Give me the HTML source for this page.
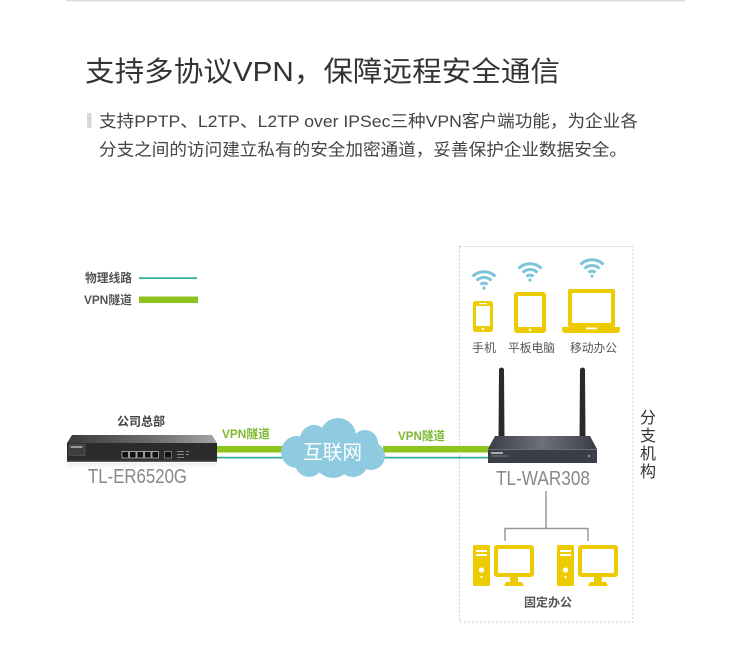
<!DOCTYPE html>
<html><head><meta charset="utf-8">
<style>
html,body{margin:0;padding:0;background:#fff;}
svg{display:block;}
text{font-family:"Liberation Sans","Noto Sans CJK SC",sans-serif;}
</style></head>
<body>
<svg width="750" height="652" viewBox="0 0 750 652" xmlns="http://www.w3.org/2000/svg">
<defs>
<linearGradient id="r1top" x1="0" y1="0" x2="1" y2="0">
<stop offset="0" stop-color="#3a3a3a"/><stop offset="0.6" stop-color="#707070"/><stop offset="1" stop-color="#a5a5a5"/>
</linearGradient>
<linearGradient id="r2top" x1="0" y1="0" x2="1" y2="0">
<stop offset="0" stop-color="#3a3d44"/><stop offset="0.5" stop-color="#6e717a"/><stop offset="1" stop-color="#3a3d44"/>
</linearGradient>
<linearGradient id="refl" x1="0" y1="0" x2="0" y2="1">
<stop offset="0" stop-color="#ddd"/><stop offset="1" stop-color="#fff"/>
</linearGradient>
<g id="wifi" fill="none" stroke="#7dc3da" stroke-width="3" stroke-linecap="butt">
<path d="M -11.5 -11.5 A 16.3 16.3 0 0 1 11.5 -11.5"/>
<path d="M -7.4 -7.4 A 10.5 10.5 0 0 1 7.4 -7.4"/>
<path d="M -3.5 -3.5 A 5 5 0 0 1 3.5 -3.5"/>
<circle cx="0" cy="0" r="1.6" fill="#7dc3da" stroke="none"/>
</g>
<g id="pc">
<rect x="0" y="0" width="17" height="41" rx="1.5" fill="#eccb00"/>
<rect x="3" y="5" width="11" height="2" fill="#fff"/>
<rect x="3" y="9" width="11" height="2" fill="#fff"/>
<circle cx="8.5" cy="25" r="2.6" fill="#fff"/>
<circle cx="8.5" cy="32" r="1.1" fill="#fff"/>
<rect x="21" y="0" width="40" height="32" rx="3" fill="#eccb00"/>
<rect x="25" y="4" width="32" height="24" rx="1" fill="#fff"/>
<rect x="37" y="32" width="8" height="5" fill="#eccb00"/>
<path d="M33 37 H49 L51 41 H31 Z" fill="#eccb00"/>
</g>
</defs>

<!-- top line -->
<rect x="66" y="0" width="619" height="1.5" fill="#dcdcdc"/>

<!-- title -->
<text x="85" y="81" font-size="28" fill="#333" textLength="475" lengthAdjust="spacingAndGlyphs">支持多协议VPN，保障远程安全通信</text>

<!-- subtitle -->
<rect x="87" y="113" width="4.5" height="15" fill="#d8d8d8"/>
<text x="99" y="127" font-size="17" fill="#444" textLength="539" lengthAdjust="spacingAndGlyphs">支持PPTP、L2TP、L2TP over IPSec三种VPN客户端功能，为企业各</text>
<text x="99" y="155.5" font-size="17" fill="#444" textLength="528" lengthAdjust="spacingAndGlyphs">分支之间的访问建立私有的安全加密通道，妥善保护企业数据安全。</text>

<!-- legend -->
<text x="85" y="282" font-size="12" font-weight="bold" fill="#555" textLength="47" lengthAdjust="spacingAndGlyphs">物理线路</text>
<rect x="139" y="277.3" width="58" height="1.6" fill="#22a88c"/>
<text x="84" y="304" font-size="12" font-weight="bold" fill="#555" textLength="48" lengthAdjust="spacingAndGlyphs">VPN隧道</text>
<rect x="139" y="296.5" width="59" height="6.5" fill="#8dc21f"/>

<!-- dashed box -->
<rect x="459.5" y="246.5" width="173.5" height="375.5" fill="none" stroke="#cfcfcf" stroke-width="1" stroke-dasharray="2 2"/>

<!-- connection lines -->
<rect x="215" y="446" width="70" height="6.5" fill="#8dc21f"/>
<rect x="215" y="456.8" width="70" height="1.6" fill="#22a88c"/>
<rect x="383" y="446" width="108" height="6.5" fill="#8dc21f"/>
<rect x="383" y="456.8" width="108" height="1.6" fill="#22a88c"/>

<text x="222" y="438" font-size="12" font-weight="bold" fill="#7cb82f" textLength="48" lengthAdjust="spacingAndGlyphs">VPN隧道</text>
<text x="398" y="440" font-size="12" font-weight="bold" fill="#7cb82f" textLength="47" lengthAdjust="spacingAndGlyphs">VPN隧道</text>

<!-- cloud -->
<g fill="#8ecae0">
<circle cx="297" cy="452" r="16"/>
<circle cx="314" cy="439" r="14"/>
<circle cx="338" cy="436" r="18"/>
<circle cx="365" cy="443" r="13"/>
<circle cx="371" cy="456" r="14"/>
<circle cx="333" cy="459" r="19"/>
<circle cx="353" cy="462" r="15"/>
<circle cx="309" cy="463" r="14"/>
</g>
<text x="303" y="459" font-size="20" fill="#fff" textLength="59" lengthAdjust="spacingAndGlyphs">互联网</text>

<!-- router 1 -->
<text x="117" y="425.5" font-size="12" font-weight="bold" fill="#444" textLength="48" lengthAdjust="spacingAndGlyphs">公司总部</text>
<path d="M72 435 H212 L217 443 H67 Z" fill="url(#r1top)"/>
<rect x="67" y="443" width="150" height="19" fill="#2b2b2b"/>
<rect x="67" y="460.5" width="150" height="1.5" fill="#555"/>
<rect x="69" y="444.5" width="16" height="11" fill="#3d3d3d" stroke="#666" stroke-width="0.5"/>
<rect x="70.5" y="446" width="12" height="2" fill="#999"/>
<g fill="#111" stroke="#bbb" stroke-width="0.8">
<rect x="122" y="451.5" width="6.5" height="6.5"/>
<rect x="129.5" y="451.5" width="6.5" height="6.5"/>
<rect x="137" y="451.5" width="6.5" height="6.5"/>
<rect x="144.5" y="451.5" width="6.5" height="6.5"/>
<rect x="152" y="451.5" width="6.5" height="6.5"/>
<rect x="164.5" y="451.5" width="7" height="6.5" stroke="#888"/>
</g>
<g fill="#888">
<rect x="177" y="451" width="7" height="1"/><rect x="177" y="454" width="7" height="1"/><rect x="177" y="457" width="7" height="1"/>
<rect x="186" y="451" width="3" height="1"/><rect x="186" y="454" width="3" height="1"/>
</g>
<rect x="67" y="463" width="150" height="6" fill="url(#refl)" opacity="0.5"/>
<text x="88" y="483" font-size="20" fill="#888" textLength="99" lengthAdjust="spacingAndGlyphs">TL-ER6520G</text>

<!-- branch devices -->
<use href="#wifi" x="484" y="288"/>
<use href="#wifi" x="530" y="280"/>
<use href="#wifi" x="592" y="276"/>

<!-- phone -->
<rect x="473" y="301" width="20" height="31" rx="2.5" fill="#eccb00"/>
<rect x="476" y="306" width="14" height="20" fill="#fff"/>
<rect x="479" y="303" width="8" height="1.2" fill="#fff"/>
<circle cx="483" cy="329" r="1.2" fill="#fff"/>
<!-- tablet -->
<rect x="514" y="292" width="32" height="41" rx="3" fill="#eccb00"/>
<rect x="518" y="296" width="24" height="31" fill="#fff"/>
<circle cx="530" cy="330" r="1.3" fill="#fff"/>
<!-- laptop -->
<rect x="568" y="289" width="47" height="38" rx="2" fill="#eccb00"/>
<rect x="572" y="293" width="39" height="30" fill="#fff"/>
<path d="M562 327 H620 V331 L618 333 H564 L562 331 Z" fill="#eccb00"/>
<rect x="586" y="327.5" width="11" height="1.8" fill="#fff"/>

<text x="472" y="352" font-size="12" fill="#555" textLength="24" lengthAdjust="spacingAndGlyphs">手机</text>
<text x="508" y="352" font-size="12" fill="#555" textLength="47" lengthAdjust="spacingAndGlyphs">平板电脑</text>
<text x="570" y="352" font-size="12" fill="#555" textLength="47" lengthAdjust="spacingAndGlyphs">移动办公</text>

<!-- router 2 -->
<path d="M498.5 440 L499 369 Q501.5 366 504 369 L504.5 440 Z" fill="#2a2a2a"/>
<path d="M579.5 440 L580 369 Q582.5 366 585 369 L585.5 440 Z" fill="#2a2a2a"/>
<path d="M495 436 H590 L597 449 H488 Z" fill="url(#r2top)"/>
<rect x="488" y="449" width="109" height="14" fill="#3b3e46"/>
<rect x="488" y="449" width="109" height="1" fill="#6b6e76"/>
<rect x="491" y="452" width="12" height="2" fill="#aaa"/>
<rect x="491" y="455.5" width="18" height="1" fill="#777"/>
<circle cx="589" cy="456" r="1" fill="#bbb"/>
<text x="496" y="485" font-size="20" fill="#888" textLength="94" lengthAdjust="spacingAndGlyphs">TL-WAR308</text>

<!-- 分支机构 -->
<g font-size="16" fill="#333">
<text x="640" y="423">分</text>
<text x="640" y="441">支</text>
<text x="640" y="459">机</text>
<text x="640" y="477">构</text>
</g>

<!-- tree connector -->
<g stroke="#999" stroke-width="1.5" fill="none">
<path d="M546 491 V528.5"/>
<path d="M505 541 V528.5 H588 V541"/>
</g>

<!-- computers -->
<use href="#pc" x="473" y="545"/>
<use href="#pc" x="557" y="545"/>
<text x="524" y="606.5" font-size="12" font-weight="bold" fill="#555" textLength="48" lengthAdjust="spacingAndGlyphs">固定办公</text>
</svg>
</body></html>
